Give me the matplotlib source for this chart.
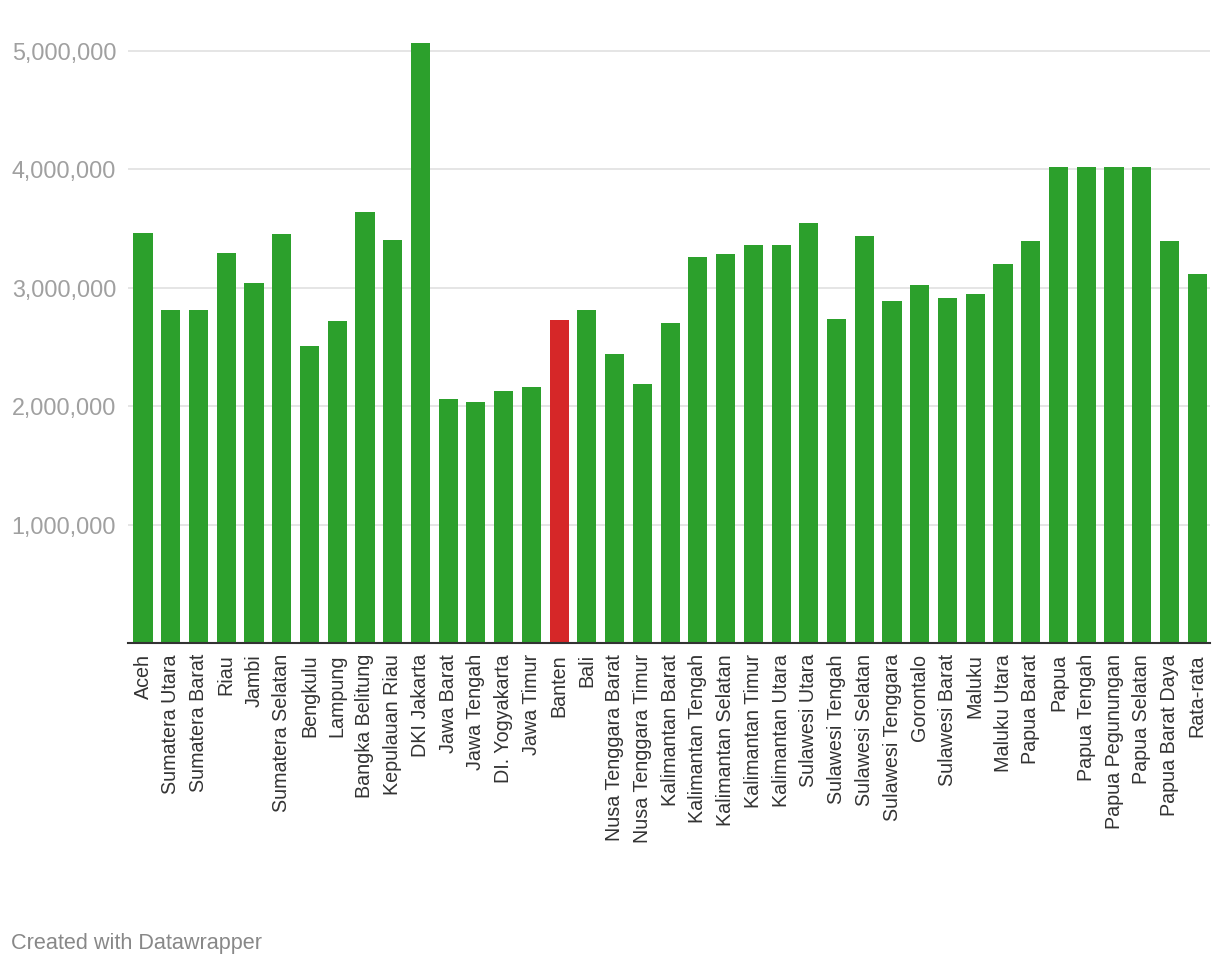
import matplotlib
matplotlib.use("Agg")
import matplotlib.pyplot as plt
from matplotlib.ticker import FuncFormatter

provinces = ["Aceh", "Sumatera Utara", "Sumatera Barat", "Riau", "Jambi", "Sumatera Selatan",
             "Bengkulu", "Lampung", "Bangka Belitung", "Kepulauan Riau", "DKI Jakarta",
             "Jawa Barat", "Jawa Tengah", "DI. Yogyakarta", "Jawa Timur", "Banten", "Bali",
             "Nusa Tenggara Barat", "Nusa Tenggara Timur", "Kalimantan Barat", "Kalimantan Tengah",
             "Kalimantan Selatan", "Kalimantan Timur", "Kalimantan Utara", "Sulawesi Utara",
             "Sulawesi Tengah", "Sulawesi Selatan", "Sulawesi Tenggara", "Gorontalo",
             "Sulawesi Barat", "Maluku", "Maluku Utara", "Papua Barat", "Papua", "Papua Tengah",
             "Papua Pegunungan", "Papua Selatan", "Papua Barat Daya", "Rata-rata"]
values = [3460672, 2809915, 2811449, 3294625, 3037121, 3456874,
          2507079, 2716497, 3640000, 3402492, 5067381,
          2057495, 2036947, 2125897, 2165244, 2727812, 2813672,
          2444067, 2186826, 2702616, 3261616,
          3282812, 3360858, 3361653, 3545000,
          2736698, 3434298, 2885964, 3025100,
          2914958, 2949953, 3200000, 3393500, 4024270, 4024270,
          4024270, 4024270, 3393500, 3113359]
highlight = "Banten"
yticks = [1000000, 2000000, 3000000, 4000000, 5000000]

GREEN = "#2ca02c"
RED = "#d62728"

plt.rcParams['font.family'] = ['Liberation Sans', 'DejaVu Sans']

fig = plt.figure(figsize=(12.2, 9.66), dpi=100)
ax = fig.add_axes([128/1220, (966-643)/966, (1210-128)/1220, (643-40)/966])

colors = [RED if p == highlight else GREEN for p in provinces]
x = list(range(len(provinces)))
ax.bar(x, values, width=0.69, color=colors, zorder=3)

ax.set_xlim(-0.54, len(provinces) - 0.54)
ax.set_ylim(0, 5093000)
ax.set_yticks(yticks)
ax.yaxis.set_major_formatter(FuncFormatter(lambda v, p: f"{int(v):,}"))
ax.grid(axis='y', color='#e3e3e3', linewidth=1.3, zorder=0)
ax.set_axisbelow(True)

ax.set_xticks(x)
ax.set_xticklabels(provinces, rotation=90, fontsize=14.2, color='#333333')
ax.tick_params(axis='x', length=0, pad=8)
ax.tick_params(axis='y', length=0, pad=8.5, labelsize=16.8, labelcolor='#a0a0a0')

for s in ['top', 'right', 'left']:
    ax.spines[s].set_visible(False)
ax.spines['bottom'].set_color('#333333')
ax.spines['bottom'].set_linewidth(1.5)
ax.spines['bottom'].set_zorder(4)

fig.text(11/1220, 1 - 943/966, "Created with Datawrapper", fontsize=15.6,
         color='#888888', ha='left', va='center')

fig.savefig("out.png", dpi=100, facecolor='white')
